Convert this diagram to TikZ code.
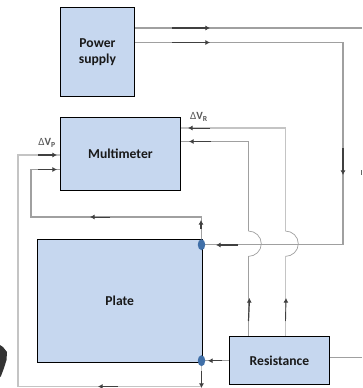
\documentclass[tikz,border=0pt]{standalone}
\usepackage{fontspec}
\setmainfont{Carlito}
\usetikzlibrary{arrows.meta,shapes.geometric}
\definecolor{boxblue}{HTML}{C6D7EF}
\definecolor{dotblue}{HTML}{3F6FA8}
\definecolor{wireg}{HTML}{A0A0A0}
\definecolor{wirel}{HTML}{C4C4C4}
\tikzset{x=1pt,y=-1pt,
 blk/.style={draw=black,fill=boxblue,line width=0.9pt,inner sep=0pt,align=center,font=\bfseries\fontsize{13.6}{16}\selectfont,text=black!90,anchor=north west},
 wire/.style={draw=wireg,line width=1.2pt},
 lwire/.style={draw=wirel,line width=1.2pt},
 thinarc/.style={draw=wireg,line width=0.7pt},
 head/.style={draw=black!75,line width=1.2pt,-{Latex[length=4.6pt,width=5pt]}},
 dot/.style={draw=none,fill=dotblue,ellipse,minimum width=7.5pt,minimum height=11pt,inner sep=0pt},
 lab/.style={font=\fontsize{11}{12}\selectfont,text=black!65,inner sep=0pt}}
\begin{document}
\begin{tikzpicture}
\useasboundingbox (0,0) rectangle (362,388);
\fill[white] (0,0) rectangle (362,388);
\coordinate (rEdgeT) at (362,28);
\coordinate (rEdgeR) at (362,357.7);
\coordinate (c2a) at (343,42.5);
\coordinate (c2b) at (343,244.7);
\coordinate (lA) at (18,155);
\coordinate (lB) at (18,386.5);
\coordinate (lC) at (201.5,386.5);
\coordinate (mA) at (31,169.5);
\coordinate (mB) at (31,217);
\coordinate (mC) at (201.5,217);
% stray dark shape at the lower left edge
\fill[black!80] (0,345) -- (3,347) -- (7,352) -- (6.5,360) -- (4,368) -- (1,376) -- (0,377) -- cycle;
\fill[black!60] (360.8,170) rectangle (362,175);
% wires under boxes
\draw[wire] (134,28) -- (rEdgeT);
\draw[wire] (134,42.5) -- (c2a) -- (c2b) -- (201.5,244.7);
\draw[lwire] (180,128) -- (285.3,128) -- (285.3,231);
\draw[thinarc] (285.3,231) arc[start angle=-90,end angle=90,x radius=13,y radius=12.7];
\draw[lwire] (285.3,256.4) -- (285.3,336);
\draw[wire] (180,141.5) -- (248.3,141.5) -- (248.3,231);
\draw[thinarc] (248.3,231) arc[start angle=-90,end angle=90,x radius=13,y radius=12.7];
\draw[wire] (248.3,256.4) -- (248.3,336);
\draw[lwire] (60,155) -- (lA) -- (lB) -- (lC) -- (201.5,360.7);
\draw[wire] (60,169.5) -- (mA) -- (mB) -- (mC) -- (201.5,244.7);
\draw[wire] (329,357.7) -- (rEdgeR);
\draw[wire] (229,360.7) -- (201.5,360.7);
% boxes
\node[blk,minimum width=74pt,minimum height=89pt] (power) at (60,7) {Power\\supply};
\node[blk,minimum width=120pt,minimum height=73pt] (meter) at (60,117) {Multimeter};
\node[blk,minimum width=164.5pt,minimum height=123pt] (plate) at (37,239) {Plate};
\node[blk,minimum width=100pt,minimum height=48pt] (res) at (229,336) {Resistance};
\node[dot] (d1) at (201.5,244.7) {};
\node[dot] (d2) at (201.5,360.7) {};
% arrow marks
\draw[head] (172,28) -- (210,28);
\draw[head,line width=0.9pt] (172,42.5) -- (210,42.5);
\draw[head] (343,148) -- (343,175);
\draw[head,line width=0.9pt] (210,128) -- (188,128);
\draw[head] (211,141.5) -- (189,141.5);
\draw[head] (38,155) -- (57,155);
\draw[head] (38,169.5) -- (57,169.5);
\draw[head,line width=0.9pt] (110,217) -- (90,217);
\draw[head,line width=0.9pt] (118,386.5) -- (98,386.5);
\draw[head] (201,229) -- (201,220);
\draw[head] (201.5,371) -- (201.5,388);
\draw[head] (238,245) -- (216,245);
\draw[head] (248.5,321) -- (249.5,298);
\draw[head,line width=0.9pt] (285.5,321) -- (286,298);
\draw[head] (222,360.7) -- (208,360.7);
% labels
\node[lab] (vp) at (47,143) {Δ\textbf{V}\textsubscript{\textbf{P}}};
\node[lab] (vr) at (199,117) {Δ\textbf{V}\textsubscript{\textbf{R}}};
\end{tikzpicture}
\end{document}
